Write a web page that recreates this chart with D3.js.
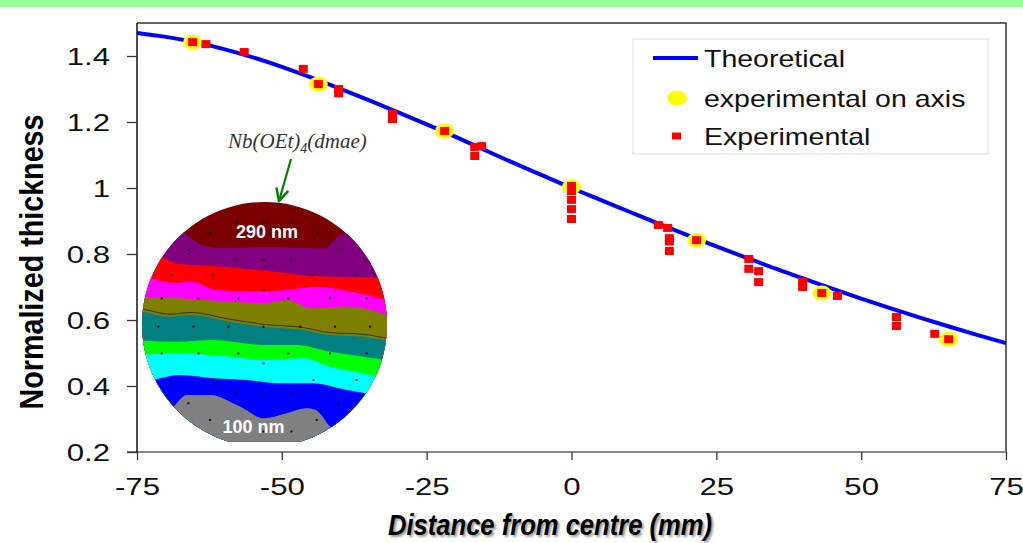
<!DOCTYPE html>
<meta charset="utf-8">
<script src="https://d3js.org/d3.v7.min.js"></script>
<style>
  body { margin: 0; background: #fff; }
</style>
<div id="chart"></div>
<script>

// ---- data ----
const xTicks = [-75, -50, -25, 0, 25, 50, 75];
const yTicks = [0.2, 0.4, 0.6, 0.8, 1, 1.2, 1.4];

// theoretical curve
const theoX = [-75, -70, -65, -60, -55, -50, -45, -40, -35, -30, -25, -20, -15, -10, -5, 0,
               5, 10, 15, 20, 25, 30, 35, 40, 45, 50, 55, 60, 65, 70, 75];
const theoY = [1.470, 1.458, 1.442, 1.421, 1.396, 1.367, 1.335, 1.301, 1.266, 1.230, 1.193, 1.155,
               1.115, 1.076, 1.038, 1.000, 0.964, 0.928, 0.892, 0.857, 0.823, 0.790, 0.757, 0.726,
               0.695, 0.665, 0.636, 0.608, 0.581, 0.555, 0.530];

// experimental on axis (yellow)
const axisX = [-65.4, -43.7, -21.9, 0, 21.6, 43.2, 65.1];
const axisY = [1.442, 1.315, 1.173, 1.003, 0.842, 0.682, 0.542];

// experimental (red)
const expX = [-65.4, -63.1, -56.5, -46.3, -43.7, -40.2, -40.2, -30.9, -30.9, -21.9, -16.7, -15.5, -16.7,
              0, 0, 0, 0, 0, 15.0, 16.6, 16.9, 16.9, 16.9, 21.6, 30.6, 30.6, 32.3, 32.3,
              39.9, 39.9, 43.2, 45.9, 56.1, 56.1, 62.7, 65.1];
const expY = [1.442, 1.436, 1.412, 1.361, 1.315, 1.300, 1.287, 1.224, 1.209, 1.173, 1.124, 1.127, 1.097,
              1.006, 0.991, 0.964, 0.936, 0.906, 0.888, 0.879, 0.848, 0.838, 0.809, 0.842, 0.785, 0.755, 0.748, 0.715,
              0.715, 0.700, 0.682, 0.673, 0.609, 0.582, 0.558, 0.542];

const seriesNames = ["Theoretical", "experimental on axis", "Experimental"];

// wafer thickness map inset (unit-circle coordinates, top to bottom)
const bandColors = ["#7a0000", "#800080", "#ff0000", "#ff00ff", "#808000", "#008080",
                    "#00ff00", "#00ffff", "#0000ff", "#808080"];
const bandEdges = [
  [[-1.05,-0.80],[-0.72,-0.80],[-0.62,-0.72],[-0.5,-0.645],[-0.35,-0.625],[0,-0.63],[0.3,-0.625],[0.5,-0.62],[0.56,-0.68],[0.63,-0.735],[0.8,-0.74],[1.05,-0.74]],
  [[-1.05,-0.62],[-0.935,-0.594],[-0.69,-0.494],[-0.418,-0.478],[0,-0.44],[0.39,-0.396],[0.807,-0.385],[1.05,-0.377]],
  [[-1.05,-0.42],[-1,-0.404],[-0.744,-0.341],[-0.594,-0.35],[-0.39,-0.282],[-0.009,-0.268],[0.181,-0.282],[0.418,-0.309],[0.672,-0.276],[1.05,-0.186]],
  [[-1.05,-0.23],[-1,-0.227],[-0.69,-0.214],[-0.282,-0.186],[-0.009,-0.173],[0.181,-0.2],[0.39,-0.132],[0.672,-0.146],[1.05,-0.064]],
  [[-1.05,-0.11],[-1,-0.105],[-0.771,-0.064],[-0.608,-0.078],[-0.282,-0.023],[-0.009,0.018],[0.318,0.045],[0.535,0.086],[0.807,0.1],[1.05,0.145]],
  [[-1.05,0.127],[-0.69,0.14],[-0.418,0.127],[-0.009,0.167],[0.264,0.167],[0.535,0.222],[0.807,0.263],[1.05,0.3]],
  [[-1.05,0.25],[-0.69,0.235],[-0.282,0.263],[-0.009,0.29],[0.318,0.276],[0.535,0.344],[0.807,0.399],[1.05,0.46]],
  [[-1.05,0.49],[-1,0.48],[-0.853,0.439],[-0.69,0.412],[-0.418,0.439],[-0.146,0.453],[0.127,0.48],[0.39,0.48],[0.672,0.535],[1.05,0.6]],
  [[-1.05,0.9],[-0.826,0.8],[-0.717,0.643],[-0.635,0.575],[-0.445,0.575],[-0.2,0.67],[-0.009,0.765],[0.181,0.724],[0.345,0.684],[0.418,0.698],[0.535,0.834],[0.672,0.97],[1.05,1.1]]
];
const dotRows = [-0.84, -0.745, -0.608, -0.527, -0.404, -0.282, -0.214, 0.018, 0.236, 0.317, 0.453, 0.562, 0.643, 0.779, 0.874];
const dotCols = [
  [-0.227, -0.009, 0.22], [-0.445, 0.426], [-0.622, 0.603], [-0.227, -0.009, 0.22],
  [-0.758, -0.418, 0.399, 0.752], [-0.009], [-0.839, -0.54, -0.214, 0.194, 0.535, 0.834],
  [-0.867, -0.58, -0.296, -0.009, 0.291, 0.576, 0.862], [-0.839, -0.54, -0.214, 0.194, 0.535, 0.834],
  [-0.009], [-0.758, -0.418, 0.399, 0.752], [-0.227, -0.009, 0.22], [-0.622, 0.603],
  [-0.445, 0.426], [-0.227, -0.009, 0.22]
];
const waferLabels = ["290 nm", "100 nm"];

// ---- layout ----
const W = 1023, H = 543;
const margin = {top: 23, right: 17, bottom: 91, left: 137};
const width = W - margin.left - margin.right,
      height = H - margin.top - margin.bottom;
const SANS = "'Liberation Sans', Arial, sans-serif";

const svg = d3.select("#chart").append("svg")
    .attr("width", W).attr("height", H)
    .style("font-family", SANS);

// light green strip at the very top
svg.append("rect").attr("x", 0).attr("y", 0).attr("width", W).attr("height", 7)
    .attr("fill", "#99ff99");

const defs = svg.append("defs");
defs.append("clipPath").attr("id", "plotclip")
  .append("rect").attr("width", width).attr("height", height);

const g = svg.append("g").attr("transform", `translate(${margin.left},${margin.top})`);

const x = d3.scaleLinear().domain([-75, 75]).range([0, width]);
const y = d3.scaleLinear().domain([0.2, 1.5]).range([height, 0]);

// frame (top and right)
g.append("path")
    .attr("d", `M0,0H${width}V${height}`)
    .attr("fill", "none").attr("stroke", "#333").attr("stroke-width", 1.5);

// x axis
const xAxis = g.append("g")
    .attr("transform", `translate(0,${height})`)
    .call(d3.axisBottom(x).tickValues(xTicks).tickSize(8).tickSizeOuter(0));
xAxis.select(".domain").attr("d", `M-10,0H${width}`).attr("stroke", "#888").attr("stroke-width", 2);
xAxis.selectAll(".tick line").attr("stroke", "#333").attr("stroke-width", 1.3);
xAxis.selectAll("text")
    .attr("y", 43).attr("dy", 0)
    .attr("font-size", 24).attr("fill", "#111")
    .style("font-family", SANS)
    .attr("transform", "scale(1.3,1)")
    .text(d => String(d));

// y axis
const yAxis = g.append("g")
    .call(d3.axisLeft(y).tickValues(yTicks).tickFormat(d => d === 1 ? "1" : d3.format(".1f")(d)).tickSize(10).tickSizeOuter(0));
yAxis.select(".domain").attr("d", `M0,${height}V0`).attr("stroke", "#111").attr("stroke-width", 1.5);
yAxis.selectAll(".tick line").attr("stroke", "#333").attr("stroke-width", 1.3);
yAxis.selectAll("text")
    .attr("x", -27 / 1.3).attr("dy", "0.36em")
    .attr("font-size", 24).attr("fill", "#111")
    .style("font-family", SANS)
    .attr("transform", "scale(1.3,1)");

// axis titles
svg.append("text")
    .attr("transform", "translate(43,262) rotate(-90)")
    .attr("text-anchor", "middle")
    .attr("font-size", 33).attr("font-weight", "bold")
    .attr("textLength", 295).attr("lengthAdjust", "spacingAndGlyphs")
    .text("Normalized thickness");

defs.append("filter").attr("id", "soft").append("feGaussianBlur").attr("stdDeviation", 1.2);
[["#9a9a9a", 2, 2, "url(#soft)"], ["#000", 0, 0, null]].forEach(([c, dx, dy, f]) => {
  svg.append("text")
      .attr("x", 550 + dx).attr("y", 535 + dy)
      .attr("text-anchor", "middle")
      .attr("font-size", 30).attr("font-weight", "bold").attr("font-style", "italic")
      .attr("textLength", 324).attr("lengthAdjust", "spacingAndGlyphs")
      .attr("fill", c).attr("filter", f)
      .text("Distance from centre (mm)");
});

// theoretical line
const theo = theoX.map((v, i) => [v, theoY[i]]);
g.append("path")
    .datum(theo)
    .attr("clip-path", "url(#plotclip)")
    .attr("d", d3.line().x(d => x(d[0])).y(d => y(d[1])).curve(d3.curveMonotoneX))
    .attr("fill", "none").attr("stroke", "#0000ff").attr("stroke-width", 4);

// experimental on axis
g.selectAll(".onaxis")
    .data(axisX.map((v, i) => [v, axisY[i]]))
    .join("ellipse")
    .attr("cx", d => x(d[0])).attr("cy", d => y(d[1]))
    .attr("rx", 9.5).attr("ry", 7.5)
    .attr("fill", "#ffff00");

// experimental
g.selectAll(".exp")
    .data(expX.map((v, i) => [v, expY[i]]))
    .join("rect")
    .attr("x", d => x(d[0]) - 4.5).attr("y", d => y(d[1]) - 4)
    .attr("width", 9).attr("height", 8)
    .attr("fill", "#ff0000");

// ---- wafer inset ----
const wcx = 264.5, wcy = 324.5, wr = 122.5;
const wx = d3.scaleLinear().domain([-1, 1]).range([wcx - wr, wcx + wr]);
const wy = d3.scaleLinear().domain([-1, 1]).range([wcy - wr, wcy + wr]);

const clip = defs.append("clipPath").attr("id", "wafer");
clip.append("path")
    .attr("d", () => {
      const flat = wy(0.957);
      const dx = Math.sqrt(wr * wr - (flat - wcy) * (flat - wcy));
      return `M${wcx - dx},${flat} A${wr},${wr} 0 1 1 ${wcx + dx},${flat} Z`;
    });

const wafer = svg.append("g").attr("clip-path", "url(#wafer)");
wafer.append("rect")
    .attr("x", wx(-1.1)).attr("y", wy(-1.1))
    .attr("width", wx(1.1) - wx(-1.1)).attr("height", wy(1.1) - wy(-1.1))
    .attr("fill", bandColors[0]);

const bandArea = d3.area()
    .x(d => wx(d[0])).y0(d => wy(d[1])).y1(wy(1.2))
    .curve(d3.curveMonotoneX);
wafer.selectAll(".band")
    .data(bandEdges)
    .join("path")
    .attr("d", bandArea)
    .attr("fill", (d, i) => bandColors[i + 1]);

// contour line inside the olive band
wafer.append("path")
    .datum(bandEdges[4].map(p => [p[0], p[1] - 0.02]))
    .attr("d", d3.line().x(d => wx(d[0])).y(d => wy(d[1])).curve(d3.curveMonotoneX))
    .attr("fill", "none").attr("stroke", "#333").attr("stroke-width", 1);

// measurement points
dotRows.forEach((ry, i) => {
  wafer.selectAll(null)
      .data(dotCols[i])
      .join("rect")
      .attr("x", d => wx(d) - 1).attr("y", wy(ry) - 1)
      .attr("width", 2).attr("height", 2)
      .attr("fill", "#111");
});

wafer.append("text")
    .attr("x", wx(0.02)).attr("y", wy(-0.706))
    .attr("text-anchor", "middle").attr("font-size", 18).attr("font-weight", "bold")
    .attr("fill", "#fff").text(waferLabels[0]);
wafer.append("text")
    .attr("x", wx(-0.09)).attr("y", wy(0.886))
    .attr("text-anchor", "middle").attr("font-size", 18).attr("font-weight", "bold")
    .attr("fill", "#fff").text(waferLabels[1]);

// precursor label + arrow
const ann = svg.append("text")
    .attr("x", 228).attr("y", 148)
    .style("font-family", "'Liberation Serif', 'Times New Roman', serif")
    .attr("font-style", "italic").attr("font-size", 21).attr("fill", "#333");
ann.append("tspan").text("Nb(OEt)");
ann.append("tspan").attr("dy", 5).attr("font-size", 14).text("4");
ann.append("tspan").attr("dy", -5).text("(dmae)");

defs.append("marker")
    .attr("id", "arrow").attr("viewBox", "0 0 10 10")
    .attr("refX", 9).attr("refY", 5)
    .attr("markerWidth", 7).attr("markerHeight", 7)
    .attr("orient", "auto")
  .append("path")
    .attr("d", "M1,1L9,5L1,9")
    .attr("fill", "none").attr("stroke", "#008000").attr("stroke-width", 1.6);
svg.append("line")
    .attr("x1", 291).attr("y1", 159).attr("x2", 279).attr("y2", 201)
    .attr("stroke", "#008000").attr("stroke-width", 2.2)
    .attr("marker-end", "url(#arrow)");

// ---- legend ----
const lg = svg.append("g").attr("transform", "translate(633,39)");
lg.append("rect").attr("width", 355).attr("height", 115)
    .attr("fill", "#fff").attr("stroke", "#ddd").attr("stroke-width", 1);
const rowY = [19, 59, 97];
lg.append("line").attr("x1", 20).attr("x2", 65).attr("y1", rowY[0]).attr("y2", rowY[0])
    .attr("stroke", "#0000ff").attr("stroke-width", 4);
lg.append("ellipse").attr("cx", 44).attr("cy", rowY[1]).attr("rx", 10).attr("ry", 7.5)
    .attr("fill", "#ffff00");
lg.append("rect").attr("x", 39).attr("y", rowY[2] - 3.5).attr("width", 9).attr("height", 7)
    .attr("fill", "#ff0000");
lg.selectAll(".lt")
    .data(seriesNames)
    .join("text")
    .attr("transform", (d, i) => `translate(71,${rowY[i] + 9}) scale(1.24,1)`)
    .attr("font-size", 23).attr("fill", "#111")
    .text(d => d);

</script>
